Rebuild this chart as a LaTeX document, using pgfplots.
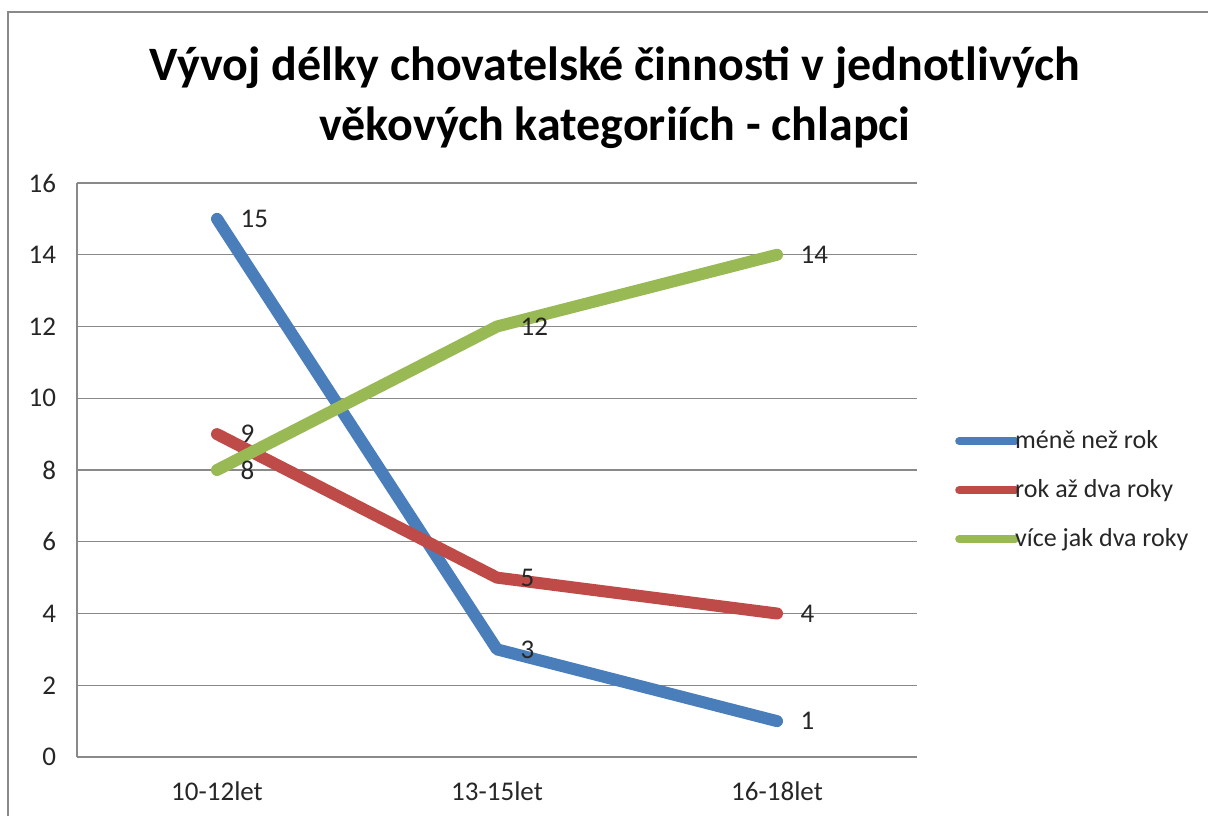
\documentclass[border=0pt]{standalone}
\usepackage{pgfplots}
\pgfplotsset{compat=1.18}
\usepackage{fontspec}
\setmainfont{Carlito}
\definecolor{cblue}{HTML}{4A7EBB}
\definecolor{cred}{HTML}{BE4B48}
\definecolor{cgreen}{HTML}{98B954}
\definecolor{cgrid}{HTML}{898989}
\begin{document}
\begin{tikzpicture}
\useasboundingbox (0,0) rectangle (604pt,408pt);
\draw[cgrid, line width=1pt] (4pt,0) -- (4pt,402pt) -- (604pt,402pt);
\node[font=\bfseries\fontsize{24}{28}\selectfont] at (307.5pt,374pt) {Vývoj délky chovatelské činnosti v jednotlivých};
\node[font=\bfseries\fontsize{24}{28}\selectfont] at (307.5pt,344pt) {věkových kategoriích - chlapci};
\begin{axis}[
  at={(38.5pt,29.5pt)}, anchor=south west,
  scale only axis, width=420pt, height=287pt,
  xmin=-0.5, xmax=2.5, ymin=0, ymax=16,
  xtick={0,1,2}, xticklabels={10-12let,13-15let,16-18let},
  ytick={0,2,...,16},
  axis x line=bottom, axis y line=left,
  axis line style={cgrid, line width=0.6pt, -},
  ymajorgrids, grid style={cgrid, line width=0.6pt},
  major tick length=0pt,
  /pgf/number format/assume math mode=true,
  tick label style={font=\fontsize{13.5}{15}\selectfont, text=black!85},
  yticklabel style={xshift=-7pt},
  xticklabel style={yshift=-9pt},
  nodes near coords,
  every node near coord/.style={anchor=west, xshift=5.5pt, font=\fontsize{13.5}{15}\selectfont, text=black!85},
  legend style={at={(1.045,0.465)}, anchor=west, draw=none, fill=none,
    font=\fontsize{13}{15}\selectfont, text=black!85, row sep=12pt,
    inner sep=0pt, nodes={inner sep=1pt},
    /tikz/every odd column/.append style={column sep=-3pt}},
  legend cell align=left,
  legend image code/.code={\draw[#1, line width=4pt, line cap=round] (0pt,0pt) -- (28pt,0pt);},
]
\addplot[cblue, line width=6pt, line cap=round, line join=round] coordinates {(0,15) (1,3) (2,1)};
\addlegendentry{méně než rok}
\addplot[cred, line width=6pt, line cap=round, line join=round] coordinates {(0,9) (1,5) (2,4)};
\addlegendentry{rok až dva roky}
\addplot[cgreen, line width=6pt, line cap=round, line join=round] coordinates {(0,8) (1,12) (2,14)};
\addlegendentry{více jak dva roky}
\end{axis}
\end{tikzpicture}
\end{document}
